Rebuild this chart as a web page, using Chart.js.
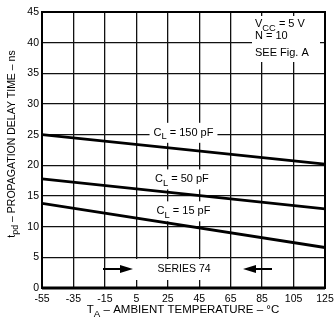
<!DOCTYPE html>
<html>
<head>
<meta charset="utf-8">
<script src="https://cdn.jsdelivr.net/npm/chart.js@4.4.0/dist/chart.umd.min.js"></script>
<style>
  html, body { margin: 0; padding: 0; background: #fff; }
  #wrap { width: 334px; height: 325px; }
</style>
</head>
<body>
<div id="wrap"><canvas id="grafico" width="334" height="325"></canvas></div>
<script>
// Datos
const temperaturas = [-55, 125];
const cl150 = [25.0, 20.2];
const cl50 = [17.8, 12.9];
const cl15 = [13.8, 6.6];
const ticksX = [-55, -35, -15, 5, 25, 45, 65, 85, 105, 125];
const ticksY = [0, 5, 10, 15, 20, 25, 30, 35, 40, 45];

const FUENTE = '"Liberation Sans", Arial, sans-serif';
const NEGRO = "#000";

// Escribe texto con subíndice (ej. C + L)
function textoSub(ctx, partes, x, y, tam) {
    let cx = x;
    partes.forEach(p => {
        const t = p.sub ? tam * 0.85 : tam;
        ctx.font = t + "px " + FUENTE;
        ctx.fillText(p.txt, cx, y + (p.sub ? tam * 0.35 : 0));
        cx += ctx.measureText(p.txt).width;
    });
    return cx - x;
}
function anchoSub(ctx, partes, tam) {
    let w = 0;
    partes.forEach(p => {
        ctx.font = (p.sub ? tam * 0.85 : tam) + "px " + FUENTE;
        w += ctx.measureText(p.txt).width;
    });
    return w;
}

const etiquetas = [
    { partes: [{ txt: "C" }, { txt: "L", sub: true }, { txt: " = 150 pF" }], x: 35, y: 25.3 },
    { partes: [{ txt: "C" }, { txt: "L", sub: true }, { txt: " = 50 pF" }], x: 34, y: 17.7 },
    { partes: [{ txt: "C" }, { txt: "L", sub: true }, { txt: " = 15 pF" }], x: 35, y: 12.5 }
];

const pluginAnotaciones = {
    id: "anotaciones",
    beforeDatasetsDraw(chart) {
        const ctx = chart.ctx;
        const sx = chart.scales.x, sy = chart.scales.y;
        ctx.save();
        ctx.fillStyle = NEGRO;
        ctx.textBaseline = "middle";
        // Etiquetas de las curvas con fondo blanco
        etiquetas.forEach(e => {
            const w = anchoSub(ctx, e.partes, 11);
            const cx = sx.getPixelForValue(e.x), cy = sy.getPixelForValue(e.y);
            ctx.fillStyle = "#fff";
            ctx.fillRect(cx - w / 2 - 4, cy - 10, w + 8, 20);
            ctx.fillStyle = NEGRO;
            textoSub(ctx, e.partes, cx - w / 2, cy, 11);
        });
        // Cuadro de condiciones
        ctx.fillStyle = "#fff";
        ctx.fillRect(252, 16, 68, 46);
        ctx.fillStyle = NEGRO;
        ctx.textBaseline = "alphabetic";
        textoSub(ctx, [{ txt: "V" }, { txt: "CC", sub: true }, { txt: " = 5 V" }], 255, 27, 11);
        ctx.font = "11px " + FUENTE;
        ctx.fillText("N = 10", 255, 39);
        ctx.fillText("SEE Fig. A", 255, 56);
        // SERIES 74 con flechas
        ctx.fillStyle = "#fff";
        ctx.fillRect(134, 259, 95, 21);
        ctx.fillStyle = NEGRO;
        ctx.textBaseline = "middle";
        ctx.textAlign = "center";
        ctx.font = "10.5px " + FUENTE;
        ctx.fillText("SERIES 74", 184, 269);
        ctx.textAlign = "left";
        ctx.strokeStyle = NEGRO;
        ctx.lineWidth = 1.8;
        ctx.beginPath();
        ctx.moveTo(103, 269); ctx.lineTo(122, 269);
        ctx.moveTo(254, 269); ctx.lineTo(272, 269);
        ctx.stroke();
        ctx.beginPath();
        ctx.moveTo(133, 269); ctx.lineTo(120, 265); ctx.lineTo(120, 273); ctx.closePath();
        ctx.moveTo(243, 269); ctx.lineTo(256, 265); ctx.lineTo(256, 273); ctx.closePath();
        ctx.fill();
        ctx.restore();
    },
    afterDraw(chart) {
        const ctx = chart.ctx;
        const a = chart.chartArea;
        ctx.save();
        // Marco
        ctx.strokeStyle = NEGRO;
        ctx.lineWidth = 2;
        ctx.strokeRect(a.left, a.top, a.right - a.left, a.bottom - a.top);
        ctx.lineWidth = 3;
        ctx.beginPath();
        ctx.moveTo(a.left, a.bottom); ctx.lineTo(a.right, a.bottom);
        ctx.stroke();
        ctx.fillStyle = NEGRO;
        ctx.textBaseline = "middle";
        // Título eje X
        const px = [{ txt: "T" }, { txt: "A", sub: true }, { txt: " – AMBIENT TEMPERATURE – °C" }];
        const wx = anchoSub(ctx, px, 11.5);
        textoSub(ctx, px, 183 - wx / 2, 310, 11.5);
        // Título eje Y (rotado)
        const py = [{ txt: "t" }, { txt: "pd", sub: true }, { txt: " – PROPAGATION DELAY TIME – ns" }];
        const wy = anchoSub(ctx, py, 10.5);
        ctx.translate(12, 144);
        ctx.rotate(-Math.PI / 2);
        textoSub(ctx, py, -wy / 2, 0, 10.5);
        ctx.restore();
    }
};

const estiloLinea = { borderColor: NEGRO, borderWidth: 2.8, pointRadius: 0, fill: false, tension: 0 };

new Chart(document.getElementById("grafico").getContext("2d"), {
    type: "line",
    data: {
        datasets: [
            Object.assign({ label: "CL = 150 pF", data: temperaturas.map((t, i) => ({ x: t, y: cl150[i] })) }, estiloLinea),
            Object.assign({ label: "CL = 50 pF", data: temperaturas.map((t, i) => ({ x: t, y: cl50[i] })) }, estiloLinea),
            Object.assign({ label: "CL = 15 pF", data: temperaturas.map((t, i) => ({ x: t, y: cl15[i] })) }, estiloLinea)
        ]
    },
    options: {
        responsive: false,
        animation: false,
        layout: { padding: { left: 0, right: 9, top: 12, bottom: 0 } },
        plugins: { legend: { display: false }, tooltip: { enabled: false } },
        scales: {
            x: {
                type: "linear",
                min: -55, max: 125,
                afterBuildTicks: s => { s.ticks = ticksX.map(v => ({ value: v })); },
                afterFit: s => { s.height = 37; s.paddingLeft = 0; s.paddingRight = 0; },
                grid: { color: "#111", lineWidth: 1.3, drawTicks: false },
                border: { display: false },
                ticks: { color: NEGRO, font: { family: FUENTE, size: 10.5 }, padding: 5, maxRotation: 0, autoSkip: false }
            },
            y: {
                min: 0, max: 45,
                afterBuildTicks: s => { s.ticks = ticksY.map(v => ({ value: v })); },
                afterFit: s => { s.width = 42; s.paddingTop = 0; s.paddingBottom = 0; },
                grid: { color: "#111", lineWidth: 1.3, drawTicks: false },
                border: { display: false },
                ticks: { color: NEGRO, font: { family: FUENTE, size: 10.5 }, padding: 3 }
            }
        }
    },
    plugins: [pluginAnotaciones]
});
</script>
</body>
</html>
